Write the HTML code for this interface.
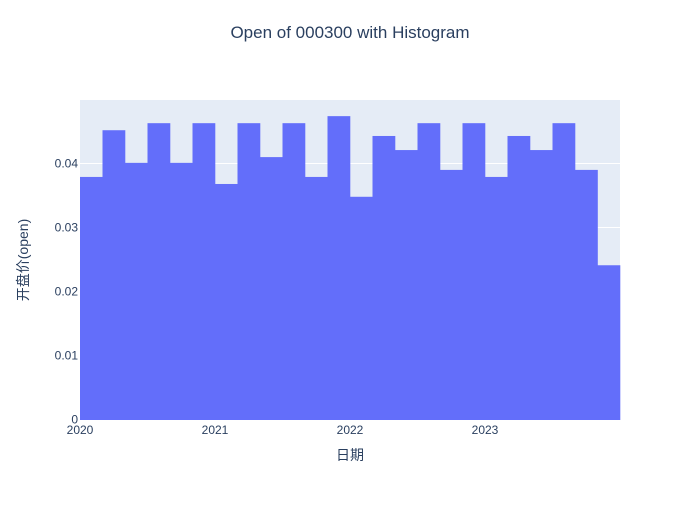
<!DOCTYPE html>
<html><head><meta charset="utf-8"><style>
body{margin:0;background:#fff;}
text{font-family:"Liberation Sans","Noto Sans CJK SC",sans-serif;}
</style></head><body>
<svg id="chart" width="700" height="500">
<rect x="0" y="0" width="700" height="500" fill="#fff"/>
<rect x="80" y="100" width="540" height="320" fill="#e5ecf6"/>
<g id="grid"></g><g id="bars"></g><g id="ticks"></g>
<text x="350" y="38" text-anchor="middle" font-size="17" fill="#2a3f5f">Open of 000300 with Histogram</text>
<text x="350" y="460" text-anchor="middle" font-size="14" fill="#2a3f5f">日期</text>
<text transform="translate(28,260) rotate(-90)" text-anchor="middle" font-size="14" fill="#2a3f5f">开盘价(open)</text>
</svg>
<script>
const values=[0.0379,0.0452,0.0401,0.0463,0.0401,0.0463,0.0368,0.0463,0.0410,0.0463,0.0379,0.0474,0.0348,0.0443,0.0421,0.0463,0.0390,0.0463,0.0379,0.0443,0.0421,0.0463,0.0390,0.0241];
const yTicks=[0,0.01,0.02,0.03,0.04];
const yTickLabels=["0","0.01","0.02","0.03","0.04"];
const xTicks=[2020,2021,2022,2023];
const xStart=2020,xEnd=2024;
const ns="http://www.w3.org/2000/svg";
const X0=80,X1=620,Y0=419.5;
function xs(v){return X0+(v-xStart)/(xEnd-xStart)*(X1-X0);}
function ys(v){return Y0-v*6400;}
const grid=document.getElementById('grid'),bars=document.getElementById('bars'),ticks=document.getElementById('ticks');
yTicks.forEach((t,i)=>{
 if(t>0){const l=document.createElementNS(ns,'line');
 l.setAttribute('x1',X0);l.setAttribute('x2',X1);l.setAttribute('y1',ys(t));l.setAttribute('y2',ys(t));
 l.setAttribute('stroke','#fff');l.setAttribute('stroke-width','1');
 
 
 grid.appendChild(l);}
 const tx=document.createElementNS(ns,'text');
 tx.setAttribute('x',X0-2);tx.setAttribute('y',ys(t)+4);tx.setAttribute('text-anchor','end');
 tx.setAttribute('font-size','12');tx.setAttribute('fill','#2a3f5f');tx.textContent=yTickLabels[i];
 
 
 ticks.appendChild(tx);
});
const n=values.length;
values.forEach((v,i)=>{
 const a=xStart+(xEnd-xStart)*i/n,b=xStart+(xEnd-xStart)*(i+1)/n;
 const r=document.createElementNS(ns,'rect');
 r.setAttribute('x',xs(a));r.setAttribute('width',xs(b)-xs(a)+0.3);
 r.setAttribute('y',ys(v));r.setAttribute('height',Y0-ys(v)+0.5);
 r.setAttribute('fill','#636efa');
 
 
 bars.appendChild(r);
});
xTicks.forEach(t=>{
 const tx=document.createElementNS(ns,'text');
 tx.setAttribute('x',xs(t));tx.setAttribute('y',434);tx.setAttribute('text-anchor','middle');
 tx.setAttribute('font-size','12');tx.setAttribute('fill','#2a3f5f');tx.textContent=t;
 
 
 ticks.appendChild(tx);
});
</script>
</body></html>
